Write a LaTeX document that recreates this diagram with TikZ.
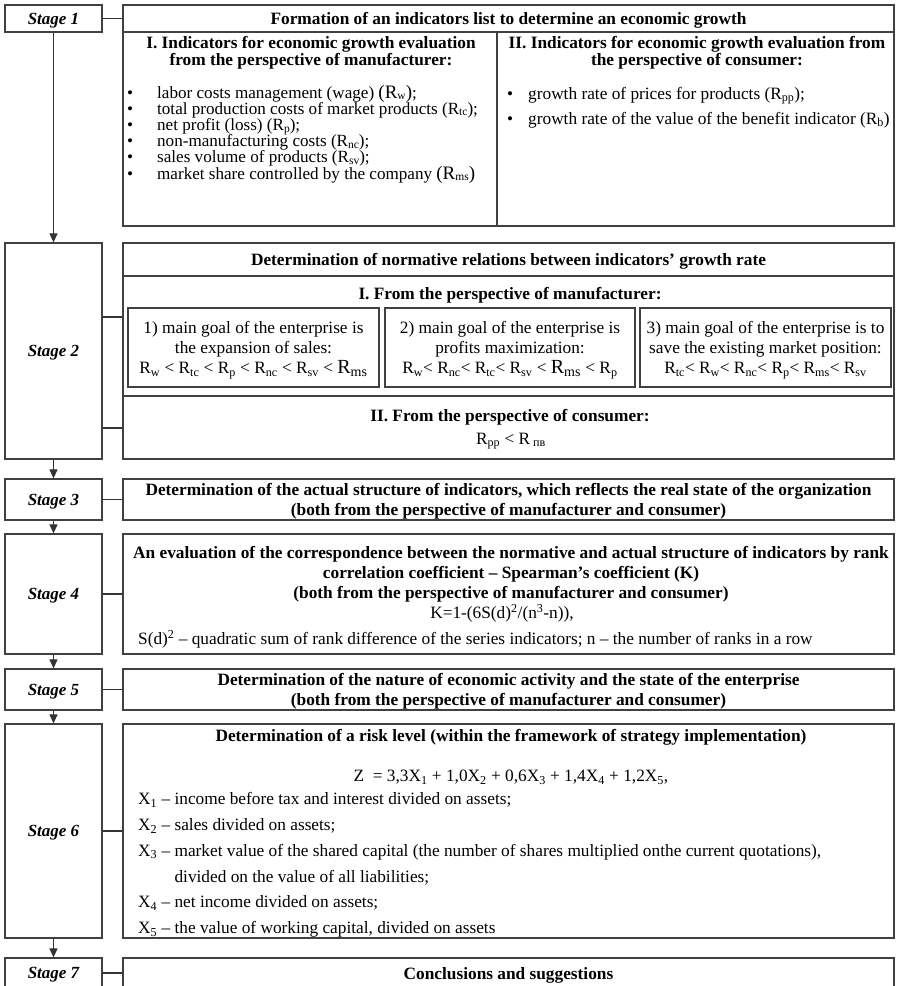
\documentclass[tikz,border=0pt]{standalone}
\usepackage{fontspec}
\setmainfont{Liberation Serif}
\usetikzlibrary{positioning, arrows.meta}

\setlength{\lineskiplimit}{-20pt}

\newcommand{\Rsub}[1]{R\textsubscript{#1}}
\newcommand{\Rlow}[1]{R\raisebox{-1.6pt}{\fontsize{11.5}{11.5}\selectfont #1}}
\newcommand{\Rbig}[1]{{\fontsize{20}{16}\selectfont R\textsubscript{#1}}}
\newcommand{\Xsub}[1]{X\textsubscript{#1}}

\begin{document}
\begin{tikzpicture}[
    x=1pt, y=-1pt,
    font=\fontsize{17.3}{16}\selectfont,
    frame/.style={
        draw=black!75,
        line width=1.3pt,
        inner sep=0pt
    },
    stagebox/.style={
        frame,
        minimum width=97pt,
        text depth=0pt,
        font=\fontsize{17}{16}\selectfont\bfseries\itshape
    },
    cell/.style={
        frame,
        minimum width=771pt,
        align=center,
        text depth=0pt,
        font=\fontsize{17.3}{20}\selectfont\bfseries
    },
    head/.style={
        align=center,
        inner sep=0pt,
        text depth=0pt,
        font=\fontsize{17.3}{20}\selectfont\bfseries
    },
    txt/.style={
        align=left,
        inner sep=0pt
    },
    goal/.style={
        frame,
        align=center,
        minimum height=79pt,
        text depth=0pt,
        font=\fontsize{17.3}{20}\selectfont
    },
    ptr/.style={
        >={Triangle[length=9pt, width=8pt]},
        ->,
        line width=1.2pt,
        black!80
    },
    link/.style={
        line width=1.2pt,
        black!80
    }
]

    \path[use as bounding box, clip] (0,0) rectangle (898,986);

    % Stages
    \node[stagebox, minimum height=27pt] (s1) at (53.5,18.5) {Stage 1};
    \node[stagebox, minimum height=216pt] (s2) at (53.5,351) {Stage 2};
    \node[stagebox, minimum height=41pt] (s3) at (53.5,499.5) {Stage 3};
    \node[stagebox, minimum height=120pt] (s4) at (53.5,594) {Stage 4};
    \node[stagebox, minimum height=41pt] (s5) at (53.5,689.5) {Stage 5};
    \node[stagebox, minimum height=214pt] (s6) at (53.5,831) {Stage 6};
    \node[stagebox, minimum height=30pt] (s7) at (53.5,973) {Stage 7};

    % Stage 1: list of indicators
    \node[cell, minimum height=27pt] (c1) at (508.5,18.5) {Formation of an indicators list to determine an economic growth};
    \node[frame, minimum width=374pt, minimum height=194pt] (c1a) at (310,129) {};
    \node[frame, minimum width=397pt, minimum height=194pt] (c1b) at (695.5,129) {};

    \node[head, font=\fontsize{17.3}{17}\selectfont\bfseries] (t1a) at (311,51) {I. Indicators for economic growth evaluation\\from the perspective of manufacturer:};
    \node[head, font=\fontsize{17.3}{17}\selectfont\bfseries] (t1b) at (697,51) {II. Indicators for economic growth evaluation from\\the perspective of consumer:};

    \node[txt, anchor=west, font=\fontsize{17.1}{16.2}\selectfont] (l1a) at (127,134) {%
        \makebox[30pt][l]{•}labor costs management (wage) {\fontsize{19}{16}\selectfont(\Rlow{w})};\\
        \makebox[30pt][l]{•}total production costs of market products (\Rlow{tc});\\
        \makebox[30pt][l]{•}net profit (loss) (\Rlow{p});\\
        \makebox[30pt][l]{•}non-manufacturing costs (\Rlow{nc});\\
        \makebox[30pt][l]{•}sales volume of products (\Rlow{sv});\\
        \makebox[30pt][l]{•}market share controlled by the company {\fontsize{19}{16}\selectfont(\Rlow{ms})}};
    \node[txt, anchor=west] (l1b) at (507,107.5) {%
        \makebox[21pt][l]{•}growth rate of prices for products (\Rsub{pp});\\[9pt]
        \makebox[21pt][l]{•}growth rate of the value of the benefit indicator (\Rsub{b})};

    % Stage 2: normative relations
    \node[cell, minimum height=33pt] (c2) at (508.5,259.5) {Determination of normative relations between indicators' growth rate};
    \node[frame, minimum width=771pt, minimum height=120pt] (c2a) at (508.5,336) {};
    \node[frame, minimum width=771pt, minimum height=63pt] (c2b) at (508.5,427.5) {};

    \node[head] (t2a) at (510,293) {I. From the perspective of manufacturer:};
    \node[goal, minimum width=251pt] (g1) at (253.5,347.5) {1) main goal of the enterprise is\\the expansion of sales:\\\Rsub{w} < \Rsub{tc} < \Rsub{p} < \Rsub{nc} < \Rsub{sv} < \Rbig{ms}};
    \node[goal, minimum width=250pt] (g2) at (510,347.5) {2) main goal of the enterprise is\\profits maximization:\\\Rsub{w}< \Rsub{nc}< \Rsub{tc}< \Rsub{sv} < \Rbig{ms} < \Rsub{p}};
    \node[goal, minimum width=251pt] (g3) at (765.5,347.5) {3) main goal of the enterprise is to\\save the existing market position:\\\Rsub{tc}< \Rsub{w}< \Rsub{nc}< \Rsub{p}< \Rsub{ms}< \Rsub{sv}};

    \node[head] (t2b) at (510,415) {II. From the perspective of consumer:};
    \node[inner sep=0pt] (rel) at (511,441) {\Rsub{pp} < R\textsubscript{ пв}};

    % Stage 3
    \node[cell, minimum height=41pt] (c3) at (508.5,499.5) {Determination of the actual structure of indicators, which reflects the real state of the organization\\(both from the perspective of manufacturer and consumer)};

    % Stage 4: rank correlation
    \node[frame, minimum width=771pt, minimum height=120pt] (c4) at (508.5,594) {};
    \node[head] (t4) at (511,572) {An evaluation of the correspondence between the normative and actual structure of indicators by rank\\correlation coefficient -- Spearman's coefficient (K)\\(both from the perspective of manufacturer and consumer)};
    \node[inner sep=0pt] (k) at (502,613) {K=1-(6S(d)\textsuperscript{2}/(n\textsuperscript{3}-n)),};
    \node[txt, anchor=west] (sd) at (138,639) {S(d)\textsuperscript{2} -- quadratic sum of rank difference of the series indicators; n -- the number of ranks in a row};

    % Stage 5
    \node[cell, minimum height=41pt] (c5) at (508.5,689.5) {Determination of the nature of economic activity and the state of the enterprise\\(both from the perspective of manufacturer and consumer)};

    % Stage 6: risk level
    \node[frame, minimum width=771pt, minimum height=214pt] (c6) at (508.5,831) {};
    \node[head] (t6) at (511,735) {Determination of a risk level (within the framework of strategy implementation)};
    \node[inner sep=0pt] (z) at (511,777) {Z \ = 3,3\Xsub{1} + 1,0\Xsub{2} + 0,6\Xsub{3} + 1,4\Xsub{4} + 1,2\Xsub{5},};
    \node[txt, anchor=west, font=\fontsize{17.3}{25.8}\selectfont] (xs) at (138,865) {%
        \Xsub{1} -- income before tax and interest divided on assets;\\
        \Xsub{2} -- sales divided on assets;\\
        \Xsub{3} -- market value of the shared capital (the number of shares multiplied onthe current quotations),\\
        \phantom{\Xsub{3} -- }divided on the value of all liabilities;\\
        \Xsub{4} -- net income divided on assets;\\
        \Xsub{5} -- the value of working capital, divided on assets};

    % Stage 7
    \node[cell, minimum height=30pt] (c7) at (508.5,973) {Conclusions and suggestions};

    % Links stage -> content
    \coordinate (j2a) at (112,317);
    \coordinate (j2b) at (112,428);
    \draw[link] (s1.east) -- (c1.west);
    \draw[link] (s2.east |- j2a) -- (c2a.west |- j2a);
    \draw[link] (s2.east |- j2b) -- (c2b.west |- j2b);
    \draw[link] (s3.east) -- (c3.west);
    \draw[link] (s4.east) -- (c4.west);
    \draw[link] (s5.east) -- (c5.west);
    \draw[link] (s6.east) -- (c6.west);
    \draw[link] (s7.east) -- (c7.west);

    % Arrows between stages
    \draw[ptr] (s1.south) -- (s2.north);
    \draw[ptr] (s2.south) -- (s3.north);
    \draw[ptr] (s3.south) -- (s4.north);
    \draw[ptr] (s4.south) -- (s5.north);
    \draw[ptr] (s5.south) -- (s6.north);
    \draw[ptr] (s6.south) -- (s7.north);

\end{tikzpicture}
\end{document}
